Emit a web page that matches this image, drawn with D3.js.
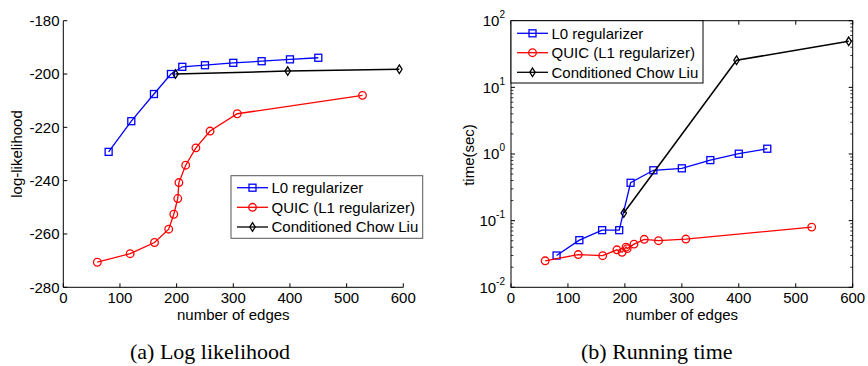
<!DOCTYPE html>
<html>
<head>
<meta charset="utf-8">
<script src="https://cdn.jsdelivr.net/npm/d3@7"></script>
<style>
  body { margin: 0; background: #fff; }
  svg { display: block; }
  text { font-family: "Liberation Sans", Arial, sans-serif; fill: #000; }
  .caption { font-family: "Liberation Serif", "Times New Roman", serif; }
</style>
</head>
<body>
<div id="chart"></div>
<script>
// values
const xTicks = [0, 100, 200, 300, 400, 500, 600];
const llTicks = [-280, -260, -240, -220, -200, -180];
const timeExponents = [-2, -1, 0, 1, 2];
const seriesNames = ['L0 regularizer', 'QUIC (L1 regularizer)', 'Conditioned Chow Liu'];

const l0Edges = [80, 120, 160, 190, 210, 250, 300, 350, 400, 450];
const l0LogLik = [-229.2, -217.7, -207.5, -200.0, -197.3, -196.7, -195.8, -195.2, -194.5, -193.9];
const l0Time = [0.030, 0.051, 0.072, 0.072, 0.37, 0.57, 0.61, 0.81, 1.01, 1.2];

const quicEdges = [60, 118, 161, 186, 195, 202, 204, 216, 234, 259, 307, 528];
const quicLogLik = [-270.6, -267.4, -263.2, -258.2, -252.6, -246.7, -240.7, -234.2, -227.7, -221.4, -214.9, -208.0];
const quicTime = [0.025, 0.031, 0.0298, 0.0365, 0.0335, 0.040, 0.038, 0.0445, 0.0525, 0.050, 0.053, 0.080];

const cclEdges = [198, 396, 593];
const cclLogLik = [-200.0, -198.9, -198.2];
const cclTime = [0.13, 25.5, 49];

const colors = ['#0000ff', '#ff0000', '#000000'];
const markers = ['square', 'circle', 'diamond'];

const svg = d3.select('#chart').append('svg')
  .attr('width', 868)
  .attr('height', 366);

function drawMarker(g, type, x, y, color) {
  if (type === 'square') {
    g.append('rect').attr('x', x - 3.5).attr('y', y - 3.5)
      .attr('width', 7).attr('height', 7)
      .attr('fill', 'none').attr('stroke', color).attr('stroke-width', 1.3);
  } else if (type === 'circle') {
    g.append('circle').attr('cx', x).attr('cy', y).attr('r', 3.8)
      .attr('fill', 'none').attr('stroke', color).attr('stroke-width', 1.3);
  } else {
    g.append('path')
      .attr('d', `M${x},${y - 4.3}L${x + 2.7},${y}L${x},${y + 4.3}L${x - 2.7},${y}Z`)
      .attr('fill', 'none').attr('stroke', color).attr('stroke-width', 1.3);
  }
}

function drawSeries(g, x, y, xs, ys, i) {
  const pts = xs.map((v, k) => [x(v), y(ys[k])]);
  g.append('path')
    .attr('d', d3.line()(pts))
    .attr('fill', 'none')
    .attr('stroke', colors[i])
    .attr('stroke-width', i === 2 ? 1.5 : 1.3);
  pts.forEach(p => drawMarker(g, markers[i], p[0], p[1], colors[i]));
}

function drawLegend(g, x0, y0, w, h, rowY, border) {
  g.append('rect').attr('x', x0).attr('y', y0).attr('width', w).attr('height', h)
    .attr('fill', '#fff').attr('stroke', border).attr('stroke-width', 1);
  seriesNames.forEach((name, i) => {
    const yy = y0 + rowY[i];
    g.append('line').attr('x1', x0 + 6).attr('x2', x0 + 37).attr('y1', yy).attr('y2', yy)
      .attr('stroke', colors[i]).attr('stroke-width', 1.3);
    drawMarker(g, markers[i], x0 + 21.5, yy, colors[i]);
    g.append('text').attr('x', x0 + 40.5).attr('y', yy).attr('dy', '0.36em')
      .attr('font-size', 15).text(name);
  });
}

// ---------- (a) log likelihood ----------
const left = svg.append('g');
const xA = d3.scaleLinear().domain([0, 600]).range([63.3, 403.3]);
const yA = d3.scaleLinear().domain([-280, -180]).range([287.3, 20.7]);

left.append('line').attr('x1', xA(0)).attr('x2', xA(600)).attr('y1', yA(-280)).attr('y2', yA(-280))
  .attr('stroke', '#000');
left.append('line').attr('x1', xA(0)).attr('x2', xA(0)).attr('y1', yA(-280)).attr('y2', yA(-180))
  .attr('stroke', '#000');

xTicks.forEach(t => {
  left.append('line').attr('x1', xA(t)).attr('x2', xA(t)).attr('y1', yA(-280)).attr('y2', yA(-280) - 4)
    .attr('stroke', '#000');
  left.append('text').attr('x', xA(t)).attr('y', 303).attr('text-anchor', 'middle')
    .attr('font-size', 15).text(t);
});
llTicks.forEach(t => {
  left.append('line').attr('x1', xA(0)).attr('x2', xA(0) + 4).attr('y1', yA(t)).attr('y2', yA(t))
    .attr('stroke', '#000');
  left.append('text').attr('x', 59.5).attr('y', yA(t)).attr('dy', '0.36em').attr('text-anchor', 'end')
    .attr('font-size', 15).text(t);
});

drawSeries(left, xA, yA, l0Edges, l0LogLik, 0);
drawSeries(left, xA, yA, quicEdges, quicLogLik, 1);
drawSeries(left, xA, yA, cclEdges, cclLogLik, 2);

drawLegend(left, 231, 175.7, 191.7, 62.6, [12, 31.6, 51.3], '#555');

left.append('text').attr('transform', 'translate(22,154) rotate(-90)')
  .attr('text-anchor', 'middle').attr('font-size', 15).text('log-likelihood');
left.append('text').attr('x', xA(300)).attr('y', 320).attr('text-anchor', 'middle')
  .attr('font-size', 15).text('number of edges');
left.append('text').attr('class', 'caption').attr('x', 130).attr('y', 359)
  .attr('font-size', 22).text('(a) Log likelihood');

// ---------- (b) running time ----------
const right = svg.append('g');
const xB = d3.scaleLinear().domain([0, 600]).range([511, 852.7]);
const yB = d3.scaleLog().domain([0.01, 100]).range([287.3, 20.7]);

right.append('rect').attr('x', xB(0)).attr('y', yB(100))
  .attr('width', xB(600) - xB(0)).attr('height', yB(0.01) - yB(100))
  .attr('fill', 'none').attr('stroke', '#000');

xTicks.forEach(t => {
  right.append('line').attr('x1', xB(t)).attr('x2', xB(t)).attr('y1', yB(0.01)).attr('y2', yB(0.01) - 4)
    .attr('stroke', '#000');
  right.append('line').attr('x1', xB(t)).attr('x2', xB(t)).attr('y1', yB(100)).attr('y2', yB(100) + 4)
    .attr('stroke', '#000');
  right.append('text').attr('x', xB(t)).attr('y', 303).attr('text-anchor', 'middle')
    .attr('font-size', 15).text(t);
});

// major and minor log ticks on both sides
timeExponents.forEach(e => {
  const v = Math.pow(10, e);
  [[xB(0), 4], [xB(600), -4]].forEach(([x0, d]) => {
    right.append('line').attr('x1', x0).attr('x2', x0 + d).attr('y1', yB(v)).attr('y2', yB(v))
      .attr('stroke', '#000');
    if (e < 2) {
      d3.range(2, 10).forEach(m => {
        right.append('line').attr('x1', x0).attr('x2', x0 + d * 0.6)
          .attr('y1', yB(v * m)).attr('y2', yB(v * m))
          .attr('stroke', '#000').attr('stroke-width', 0.8);
      });
    }
  });
  const lab = right.append('text').attr('x', 505).attr('y', yB(v)).attr('dy', '0.36em')
    .attr('text-anchor', 'end').attr('font-size', 15);
  lab.append('tspan').text('10');
  lab.append('tspan').attr('dy', -8).attr('font-size', 10).text(e);
});

drawSeries(right, xB, yB, l0Edges, l0Time, 0);
drawSeries(right, xB, yB, quicEdges, quicTime, 1);
drawSeries(right, xB, yB, cclEdges, cclTime, 2);

drawLegend(right, 511, 20.7, 192, 62.3, [12.6, 32, 51.6], '#000');

right.append('text').attr('transform', 'translate(474,155) rotate(-90)')
  .attr('text-anchor', 'middle').attr('font-size', 15).text('time(sec)');
right.append('text').attr('x', xB(300)).attr('y', 320).attr('text-anchor', 'middle')
  .attr('font-size', 15).text('number of edges');
right.append('text').attr('class', 'caption').attr('x', 581).attr('y', 359)
  .attr('font-size', 22).text('(b) Running time');
</script>
</body>
</html>
